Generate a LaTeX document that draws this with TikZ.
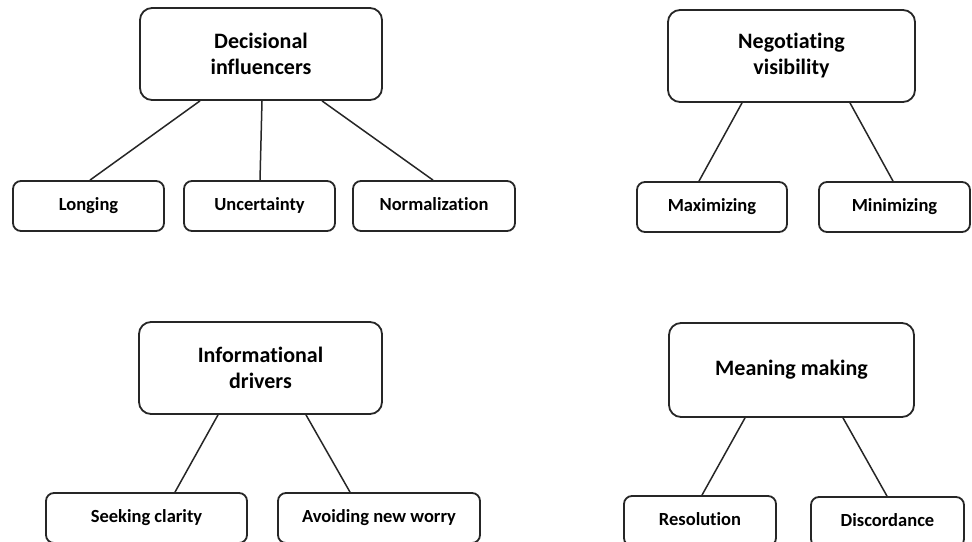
\documentclass[tikz,border=0pt]{standalone}
\usepackage{fontspec}
\setmainfont{Carlito}[Ligatures={NoCommon}]
\usetikzlibrary{calc}
\begin{document}
\begin{tikzpicture}[x=1pt,y=-1pt,
  topbox/.style={draw=black!85, line width=1.8pt, rounded corners=12pt, align=center,
    inner sep=0pt, font=\bfseries\fontsize{22}{26}\selectfont, minimum height=92pt},
  leafbox/.style={draw=black!85, line width=1.8pt, rounded corners=8pt, align=center,
    inner sep=0pt, font=\bfseries\fontsize{18.5}{22}\selectfont, minimum height=50pt,
    text height=13pt, text depth=4pt},
  link/.style={draw=black!85, line width=1.5pt}]
\useasboundingbox (0,0) rectangle (972,541);
\clip (0,0) rectangle (972,541);
% top-left group
\node[topbox, minimum width=242pt] (dec) at (261,54) {Decisional\\influencers};
\node[leafbox, minimum width=151pt] (lon) at (88.5,206) {Longing};
\node[leafbox, minimum width=151pt] (unc) at (259.5,206) {Uncertainty};
\node[leafbox, minimum width=162pt] (nor) at (434,206) {Normalization};
\draw[link] ($(dec.south)+(-61,0)$) -- ($(lon.north)+(1.5,0)$);
\draw[link] ($(dec.south)+(1,0)$) -- ($(unc.north)+(0.5,0)$);
\draw[link] ($(dec.south)+(61,0)$) -- ($(nor.north)+(-1,0)$);
% top-right group
\node[topbox, minimum width=247pt] (neg) at (791.5,56) {Negotiating\\visibility};
\node[leafbox, minimum width=150pt] (max) at (712,207) {Maximizing};
\node[leafbox, minimum width=151pt] (min) at (894.5,207) {Minimizing};
\draw[link] ($(neg.south)+(-49.5,0)$) -- ($(max.north)+(-13,0)$);
\draw[link] ($(neg.south)+(58.5,0)$) -- ($(min.north)+(-1.5,0)$);
% bottom-left group
\node[topbox, minimum width=243pt] (inf) at (260.5,368) {Informational\\drivers};
\node[leafbox, minimum width=201pt] (see) at (146.5,518) {Seeking clarity};
\node[leafbox, minimum width=202pt] (avo) at (379,518) {Avoiding new worry};
\draw[link] ($(inf.south)+(-42.5,0)$) -- ($(see.north)+(28.5,0)$);
\draw[link] ($(inf.south)+(45.5,0)$) -- ($(avo.north)+(-29,0)$);
% bottom-right group
\node[topbox, minimum width=245pt, minimum height=94pt] (mea) at (791.5,370) {Meaning making};
\node[leafbox, minimum width=152pt] (res) at (700,521) {Resolution};
\node[leafbox, minimum width=153pt] (dis) at (887.5,522) {Discordance};
\draw[link] ($(mea.south)+(-46.5,0)$) -- ($(res.north)+(2,0)$);
\draw[link] ($(mea.south)+(51.5,0)$) -- ($(dis.north)+(-0.5,0)$);
\end{tikzpicture}
\end{document}
